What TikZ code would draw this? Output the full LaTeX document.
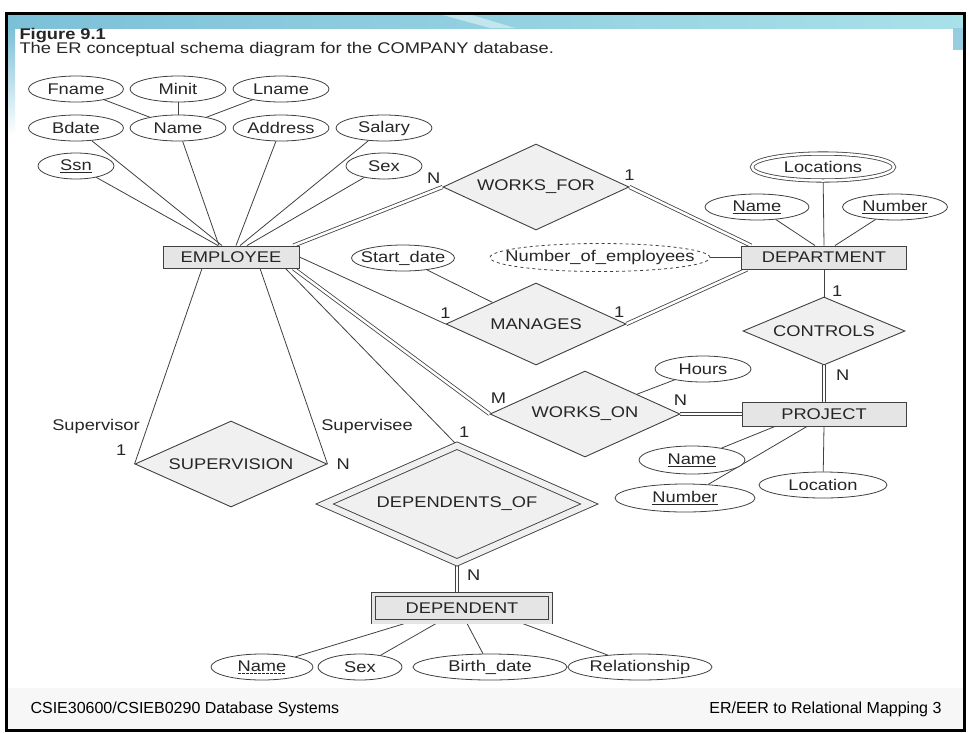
\documentclass[tikz,border=0pt]{standalone}
\usepackage{fontspec}
\setmainfont[FakeStretch=1.18]{Liberation Sans}
\newfontfamily\footfont{Liberation Sans}
\usetikzlibrary{shapes.geometric, positioning, backgrounds}
\definecolor{bandl}{HTML}{7CC0D8}
\definecolor{bandr}{HTML}{A9E1E9}
% dashed underline for a partial key
\newcommand{\partkey}[1]{\setbox0\hbox{#1}\rlap{\hbox to \wd0{\leaders\hbox to 4pt{\hss\rule[-2.5pt]{2.5pt}{0.6pt}\hss}\hfil}}\box0}
\tikzset{
every node/.style={font=\fontsize{15.5}{18}\selectfont, text=black!85}, % one size for every label
entity/.style={draw=black!75, fill=gray!20, line width=0.9pt, minimum height=22pt, inner sep=0pt}, % strong entity
weak/.style={entity, double=gray!20, double distance=3.5pt}, % weak entity, double box
relation/.style={diamond, aspect=2.2, draw=black!75, fill=gray!12, line width=0.9pt, inner sep=0pt}, % relationship
idrel/.style={relation, double=gray!12, double distance=6pt}, % identifying relationship
attr/.style={ellipse, draw=black!75, fill=white, line width=0.8pt, inner xsep=-20pt, inner ysep=0pt, minimum height=26pt}, % attribute, size set by minimum width
multi/.style={attr, double, double distance=2.5pt}, % multivalued attribute
derived/.style={attr, dashed}, % derived attribute
card/.style={inner sep=0pt}, % cardinality and role labels
link/.style={draw=black!75, line width=0.8pt}, % partial participation
total/.style={link, double, double distance=2.5pt}, % total participation
}

\begin{document}
\begin{tikzpicture}[x=1pt, y=-1pt]
    \useasboundingbox (0,0) rectangle (970,732);

    % title
    \node[anchor=base west, font=\bfseries\fontsize{15.5}{18}\selectfont] (fig) at (16,39) {Figure 9.1};
    \node[anchor=base west] (cap) at (16,53.5) {The ER conceptual schema diagram for the COMPANY database.};

    % EMPLOYEE and its attributes
    \node[entity, minimum width=136pt] (emp) at (231,257) {EMPLOYEE};
    \node[attr, minimum width=95pt] (fname) at (76,89) {Fname};
    \node[attr, minimum width=96pt] (minit) at (178,89) {Minit};
    \node[attr, minimum width=96pt] (lname) at (281,89) {Lname};
    \node[attr, minimum width=95pt] (bdate) at (76,128) {Bdate};
    \node[attr, minimum width=96pt] (name) at (178,128) {Name};
    \node[attr, minimum width=96pt] (addr) at (281,128) {Address};
    \node[attr, minimum width=96pt] (salary) at (384,128) {Salary};
    \node[attr, minimum width=76pt] (ssn) at (76,166) {\underline{Ssn}};
    \node[attr, minimum width=76pt] (sex) at (384,166) {Sex};

    % DEPARTMENT and its attributes
    \node[entity, minimum width=165pt, minimum height=23pt] (dept) at (824,257.5) {DEPARTMENT};
    \node[multi, minimum width=142pt, minimum height=27pt] (locs) at (823,167) {Locations};
    \node[attr, minimum width=104pt] (dname) at (757,207) {\underline{Name}};
    \node[attr, minimum width=105pt] (dnum) at (895,207) {\underline{Number}};
    \node[derived, minimum width=220pt, minimum height=28pt] (noe) at (600,257.5) {Number\_of\_employees};

    % PROJECT and its attributes
    \node[entity, minimum width=164pt, minimum height=24pt] (proj) at (824,414) {PROJECT};
    \node[attr, minimum width=106pt, minimum height=28pt] (pname) at (692,460) {\underline{Name}};
    \node[attr, minimum width=140pt, minimum height=28pt] (pnum) at (685,498) {\underline{Number}};
    \node[attr, minimum width=128pt] (ploc) at (823,485) {Location};

    % DEPENDENT and its attributes
    \node[weak, minimum width=177pt, minimum height=27.5pt] (dep) at (462,608) {DEPENDENT};
    \node[attr, minimum width=102pt] (depname) at (262,667) {\partkey{Name}};
    \node[attr, minimum width=84pt] (depsex) at (360,667) {Sex};
    \node[attr, minimum width=154pt] (depbd) at (490,667) {Birth\_date};
    \node[attr, minimum width=144pt] (deprel) at (640,667) {Relationship};

    % relationships
    \node[relation, minimum width=186pt, minimum height=86pt] (wf) at (536,187) {WORKS\_FOR};
    \node[relation, minimum width=180pt, minimum height=82pt] (mg) at (536,324) {MANAGES};
    \node[attr, minimum width=103pt] (sd) at (403,258) {Start\_date};
    \node[relation, minimum width=162pt, minimum height=68pt] (ct) at (824,331) {CONTROLS};
    \node[relation, minimum width=190pt, minimum height=86pt] (wo) at (585,414) {WORKS\_ON};
    \node[attr, minimum width=96pt] (hours) at (703,369) {Hours};
    \node[relation, minimum width=192pt, minimum height=86pt] (sv) at (231,464) {SUPERVISION};
    \node[idrel, minimum width=265pt, minimum height=117pt] (dof) at (457,504) {DEPENDENTS\_OF};

    % cardinalities and roles
    \node[card, above left=3pt and 2pt of wf.west] (wfn) {N};
    \node[card, above=6pt of wf.east] (wf1) {1};
    \node[card, above=5pt of mg.west] (mge) {1};
    \node[card, above left=6pt and 2pt of mg.east] (mgd) {1};
    \node[card, above right=0pt and 8pt of ct.north] (ctd) {1};
    \node[card, below right=4pt and 12pt of ct.south] (ctp) {N};
    \node[card, above right=10pt and 1pt of wo.west] (wom) {M};
    \node[card, above=8pt of wo.east] (won) {N};
    \node[card, above right=7pt and 2pt of dof.north] (dof1) {1};
    \node[card, below right=7pt and 10pt of dof.south] (dofn) {N};
    \node[card, above left=8pt and 8pt of sv.west] (sv1) {1};
    \node[card, right=9pt of sv.east] (svn) {N};
    \node[card] (svor) at (96,426) {Supervisor};
    \node[card] (svee) at (367,426) {Supervisee};

    % footer
    \node[anchor=base west, font=\footfont\fontsize{16}{18}\selectfont, text=black] (foot1) at (27,713) {CSIE30600/CSIEB0290 Database Systems};
    \node[anchor=base east, font=\footfont\fontsize{16}{18}\selectfont, text=black] (foot2) at (945,713) {ER/EER to Relational Mapping 3};

    \begin{scope}[on background layer]
    % slide frame
    \fill[white] (0,0) rectangle (970,732);
    \fill[gray!6] (7,688) rectangle (964,729);
    \shade[left color=bandl, right color=bandr] (6,12) rectangle (965,28);
    \fill[white, opacity=0.45] (432,12) -- (462,12) -- (515,28) -- (490,28) -- cycle;
    \shade[top color=bandl, bottom color=white] (6,28) rectangle (15,135);
    \fill[bandl!80] (953,28) rectangle (964,50);
    \draw[line width=3pt] (6,13.5) rectangle (964.5,730.5);

    % connectors
    \draw[link]
    (fname) edge (name)
    (minit) edge (name)
    (lname) edge (name)
    (ssn) edge ([xshift=-13pt]emp.north)
    (bdate) edge ([xshift=-9pt]emp.north)
    (name) edge ([xshift=-12pt]emp.north)
    (addr) edge ([xshift=5pt]emp.north)
    (salary) edge ([xshift=9pt]emp.north)
    (sex) edge ([xshift=16pt]emp.north)
    ([xshift=-6pt]emp.north east) edge[total] (wf.west)
    (wf.east) edge[total] ([xshift=10pt]dept.north west)
    (emp.east) edge (mg.west)
    (sd) edge (mg)
    (mg.east) edge[total] ([xshift=6pt]dept.south west)
    (noe) edge (dept)
    (dname) edge ([xshift=-9pt]dept.north)
    (locs) edge (dept.north)
    (dnum) edge ([xshift=11pt]dept.north)
    (dept.south) edge (ct.north)
    (ct.south) edge[total] (proj.north)
    ([xshift=-6pt]emp.south east) edge[total] (wo.west)
    (hours) edge (wo)
    (wo.east) edge[total] (proj.west)
    (pname) edge ([xshift=-49pt]proj.south)
    (pnum) edge ([xshift=-17pt]proj.south)
    (ploc) edge (proj.south)
    ([xshift=-14pt]emp.south east) edge (dof.north)
    ([xshift=-29pt]emp.south) edge (sv.west)
    ([xshift=29pt]emp.south) edge (sv.east)
    (dof.south) edge[total] (dof.south |- dep.north)
    (dep.195) edge (depname)
    (dep.211) edge (depsex)
    (dep.287) edge (depbd)
    (dep.346) edge (deprel);
    \end{scope}
\end{tikzpicture}
\end{document}
